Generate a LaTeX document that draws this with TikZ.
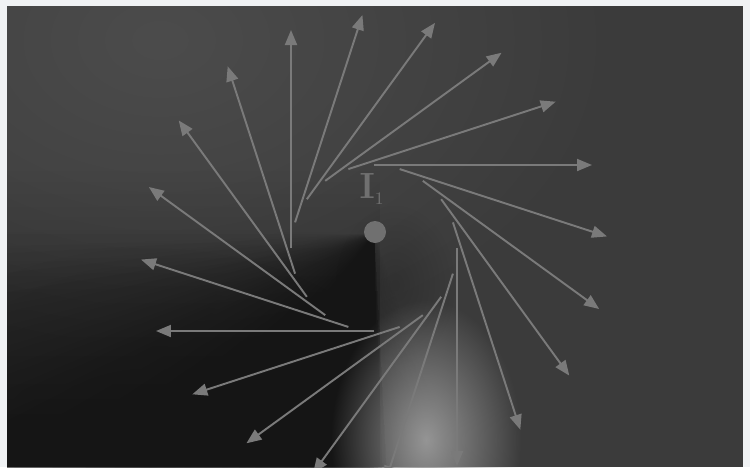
\documentclass[tikz,border=0pt]{standalone}
\usepackage{tikz}
\usetikzlibrary{arrows.meta,fadings,calc}
\definecolor{frame}{HTML}{F0F2F4}
\definecolor{panel}{HTML}{3B3B3B}
\definecolor{glow}{HTML}{4C4C4C}
\definecolor{shadow}{HTML}{151515}
\definecolor{spot}{HTML}{959595}
\definecolor{fieldline}{HTML}{7A7A7A}
\definecolor{wire}{HTML}{707070}
\tikzfading[name=softblob, inner color=transparent!0, outer color=transparent!100]
\tikzfading[name=fadeup, top color=transparent!100, bottom color=transparent!0]
\tikzset{
  fieldarrow/.style={draw=fieldline, line width=1.1pt,
    -{Triangle[length=0.3cm,width=0.24cm,fill=fieldline]}},
  wiredot/.style={circle, fill=wire, minimum size=0.44cm, inner sep=0pt},
  currentlabel/.style={text=wire, font=\fontsize{20}{20}\selectfont, inner sep=0pt}
}

\begin{document}
\begin{tikzpicture}[x=0.02cm,y=-0.02cm]
	\useasboundingbox (0,0) rectangle (750,467);
	\fill[frame] (0,0) rectangle (750,467);
	\coordinate (hub) at (374,234);
	\begin{scope}
		\clip (7,6) rectangle (743,467);
		\fill[panel] (7,6) rectangle (743,467);
		% light and shade
		\fill[glow, path fading=softblob] (160,40) ellipse [x radius=460, y radius=320];
		\fill[shadow, path fading=fadeup, opacity=0.55] (7,170) rectangle (380,467);
		\foreach \t [count=\k] in {93,96,...,180} {
			\pgfmathsetmacro{\b}{87+mod(\k,5)}
			\fill[shadow, opacity=0.045] (hub) -- ($(hub)+(\b:900)$) -- ($(hub)+(\t:900)$) -- cycle;
		}
		\foreach \s [count=\k] in {87,85,...,71} {
			\pgfmathsetmacro{\e}{181-3*\k}
			\fill[shadow, opacity=0.025] (hub) -- ($(hub)+(\s:900)$) -- ($(hub)+(\e:900)$) -- cycle;
		}
		\fill[shadow, path fading=softblob, opacity=0.45] (150,467) ellipse [x radius=300, y radius=220];
		\fill[shadow, path fading=softblob, opacity=0.3] (395,285) ellipse [x radius=60, y radius=80];
		\fill[spot, path fading=softblob] (426,440) ellipse [x radius=95, y radius=140];
		
		% field arrows round the wire
		\foreach \a [count=\i] in {0,18,...,342} {
			\coordinate (s\i) at ({374+83*cos(\a)},{248-83*sin(\a)});
			\coordinate (e\i) at ($(s\i)+({218*sin(\a)},{218*cos(\a)})$);
			\draw[fieldarrow] (s\i) -- (e\i);
		}
	\end{scope}
	
	\node[wiredot] (wire) at (375,232) {};
	\node[currentlabel] (curr) at (372,189) {$\mathbf{I}_{\scriptscriptstyle 1}$};
\end{tikzpicture}
\end{document}
